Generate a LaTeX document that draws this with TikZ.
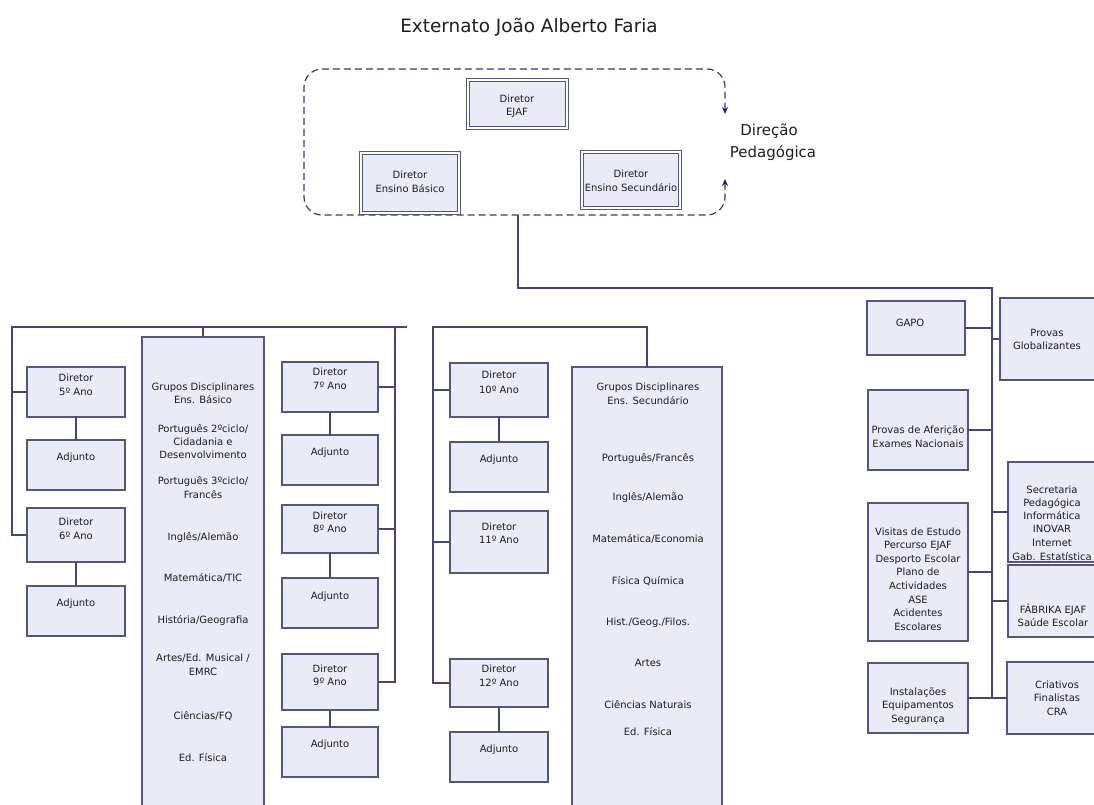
\documentclass[tikz,border=0pt]{standalone}
\usepackage{fontspec}
\setmainfont{DejaVu Sans}
\usetikzlibrary{arrows.meta,calc}
\definecolor{boxfill}{HTML}{E9EBF6}
\definecolor{boxline}{HTML}{55557F}
\definecolor{conn}{HTML}{45457A}
\definecolor{txtc}{HTML}{1E1E1E}
\definecolor{dashc}{HTML}{3A3A60}
\definecolor{arrc}{HTML}{1F1F6B}
\tikzset{
  box/.style={draw=boxline, fill=boxfill, line width=1.3pt, inner sep=0pt, outer sep=0pt},
  dbox/.style={draw=boxline, fill=boxfill, double=white, double distance=1.4pt, line width=1pt, inner sep=0pt, outer sep=0pt},
  txt/.style={font=\fontsize{10}{12}\selectfont, text=txtc, inner sep=0pt, anchor=base, yshift=-3.5pt},
  ln/.style={draw=conn, line width=1.5pt},
  dashbox/.style={draw=dashc, line width=1.2pt, dash pattern=on 7pt off 4pt, rounded corners=18pt},
}
\newcommand\mybox[6][box]{\node[#1, minimum width={#5-#3}, minimum height={#6-#4}] (#2) at ({(#3+#5)/2},{(#4+#6)/2}) {};}
\newcommand\myt[3]{\node[txt] (#1) at (#2) {#3};}
\begin{document}
\begin{tikzpicture}[x=1pt,y=-1pt]
\useasboundingbox (0,0) rectangle (1094,805);
\clip (0,0) rectangle (1094,805);
% title
\node[font=\fontsize{18.4}{20}\selectfont, text=txtc, anchor=base, inner sep=0pt] (title) at (529,33) {Externato João Alberto Faria};
% direction
\draw[dashbox, {Stealth[length=7pt,width=6pt,color=arrc]}-{Stealth[length=7pt,width=6pt,color=arrc]}]
  (725,114) -- (725,69) -- (304,69) -- (304,215) -- (725,215) -- (725,179);
\node[font=\fontsize{15}{17}\selectfont, text=txtc, anchor=base, inner sep=0pt] (dp1) at (769,136) {Direção};
\node[font=\fontsize{15}{17}\selectfont, text=txtc, anchor=base, inner sep=0pt] (dp2) at (773,158) {Pedagógica};
\mybox[dbox]{ejaf}{468}{80}{567}{128}
\mybox[dbox]{eb}{361}{153}{459}{213}
\mybox[dbox]{es}{582}{152}{680}{208}
\myt{ejaf1}{517,99}{Diretor}
\myt{ejaf2}{517,112}{EJAF}
\myt{eb1}{410,175}{Diretor}
\myt{eb2}{410,189}{Ensino Básico}
\myt{es1}{631,174}{Diretor}
\myt{es2}{631,188}{Ensino Secundário}
% left boxes
\mybox{d5}{27}{367}{125}{417}
\mybox{a5}{27}{440}{125}{490}
\mybox{d6}{27}{508}{125}{562}
\mybox{a6}{27}{586}{125}{636}
\mybox{gb}{142}{337}{264}{815}
\mybox{d7}{282}{362}{378}{412}
\mybox{a7}{282}{435}{378}{485}
\mybox{d8}{282}{505}{378}{553}
\mybox{a8}{282}{578}{378}{628}
\mybox{d9}{282}{654}{378}{710}
\mybox{a9}{282}{727}{378}{777}
\mybox{d10}{450}{363}{548}{417}
\mybox{a10}{450}{442}{548}{492}
\mybox{d11}{450}{511}{548}{573}
\mybox{d12}{450}{659}{548}{707}
\mybox{a12}{450}{732}{548}{782}
\mybox{gs}{572}{367}{722}{815}
% right boxes
\mybox{gapo}{867}{301}{965}{355}
\mybox{pg}{1000}{298}{1096}{380}
\mybox{af}{868}{390}{968}{470}
\mybox{sec}{1008}{462}{1100}{562}
\mybox{vis}{868}{503}{968}{641}
\mybox{fab}{1008}{565}{1100}{637}
\mybox{ins}{868}{663}{968}{733}
\mybox{crt}{1007}{662}{1105}{734}
% box texts
\myt{d5a}{76,378}{Diretor}\myt{d5b}{76,392}{5º Ano}\myt{a5a}{76,457}{Adjunto}
\myt{d6a}{76,522}{Diretor}\myt{d6b}{76,536}{6º Ano}\myt{a6a}{76,603}{Adjunto}
\myt{d7a}{330,372}{Diretor}\myt{d7b}{330,386}{7º Ano}\myt{a7a}{330,452}{Adjunto}
\myt{d8a}{330,516}{Diretor}\myt{d8b}{330,529}{8º Ano}\myt{a8a}{330,596}{Adjunto}
\myt{d9a}{330,669}{Diretor}\myt{d9b}{330,682}{9º Ano}\myt{a9a}{330,744}{Adjunto}
\myt{d10a}{499,375}{Diretor}\myt{d10b}{499,390}{10º Ano}\myt{a10a}{499,459}{Adjunto}
\myt{d11a}{499,527}{Diretor}\myt{d11b}{499,540}{11º Ano}
\myt{d12a}{499,669}{Diretor}\myt{d12b}{499,683}{12º Ano}\myt{a12a}{499,749}{Adjunto}
\foreach \lyy/\ltx [count=\i] in {387/{Grupos Disciplinares}, 400/{Ens. Básico}, 429/{Português 2ºciclo/}, 442/{Cidadania e}, 455/{Desenvolvimento}, 481/{Português 3ºciclo/}, 495/{Francês}, 537/{Inglês/Alemão}, 578/{Matemática/TIC}, 620/{História/Geografia}, 658/{Artes/Ed. Musical /}, 672/{EMRC}, 716/{Ciências/FQ}, 758/{Ed. Física}}
  {\node[txt] (gbt\i) at (203,\lyy) {\ltx};}
\foreach \lyy/\ltx [count=\i] in {387/{Grupos Disciplinares}, 401/{Ens. Secundário}, 458/{Português/Francês}, 497/{Inglês/Alemão}, 539/{Matemática/Economia}, 581/{Física Química}, 622/{Hist./Geog./Filos.}, 663/{Artes}, 705/{Ciências Naturais}, 732/{Ed. Física}}
  {\node[txt] (gst\i) at (648,\lyy) {\ltx};}
\myt{gapot}{910,323}{GAPO}
\myt{pg1}{1047,333}{Provas}\myt{pg2}{1047,346}{Globalizantes}
\myt{af1}{918,430}{Provas de Aferição}\myt{af2}{918,444}{Exames Nacionais}
\foreach \lyy/\ltx [count=\i] in {490/{Secretaria}, 503/{Pedagógica}, 516/{Informática}, 529/{INOVAR}, 543/{Internet}, 557/{Gab. Estatística}}
  {\node[txt] (sect\i) at (1052,\lyy) {\ltx};}
\foreach \lyy/\ltx [count=\i] in {532/{Visitas de Estudo}, 545/{Percurso EJAF}, 559/{Desporto Escolar}, 572/{Plano de}, 586/{Actividades}, 600/{ASE}, 613/{Acidentes}, 627/{Escolares}}
  {\node[txt] (vist\i) at (918,\lyy) {\ltx};}
\myt{fab1}{1053,610}{FÁBRIKA EJAF}\myt{fab2}{1053,623}{Saúde Escolar}
\myt{ins1}{918,692}{Instalações}\myt{ins2}{918,705}{Equipamentos}\myt{ins3}{918,719}{Segurança}
\myt{crt1}{1057,685}{Criativos}\myt{crt2}{1057,698}{Finalistas}\myt{crt3}{1057,712}{CRA}
% connectors: top to right column
\coordinate (dbot) at (518,215);
\coordinate (hr) at (992,288);
\draw[ln] (dbot) |- (hr) -- (hr |- crt.west);
\draw[ln] (gapo.east) -- (gapo.east -| hr);
\draw[ln] (hr |- pg.west) -- (pg.west);
\draw[ln] (af.east) -- (af.east -| hr);
\draw[ln] (hr |- sec.west) -- (sec.west);
\draw[ln] (vis.east) -- (vis.east -| hr);
\draw[ln] (hr |- fab.west) -- (fab.west);
\draw[ln] (ins.east) -- (ins.east -| hr);
\draw[ln] (hr |- crt.west) -- (crt.west);
% left bus
\coordinate (bus1) at (12,327);
\coordinate (bus1e) at (407,327);
\coordinate (v2) at (395,327);
\draw[ln] (bus1e) -- (bus1) -- (bus1 |- d6.west) -- (d6.west);
\draw[ln] (bus1 |- d5.west) -- (d5.west);
\draw[ln] (gb.north |- bus1) -- (gb.north);
\draw[ln] (v2) -- (v2 |- d9.east) -- (d9.east);
\draw[ln] (d7.east) -- (d7.east -| v2);
\draw[ln] (d8.east) -- (d8.east -| v2);
\draw[ln] (d5.south) -- (a5.north);
\draw[ln] (d6.south) -- (a6.north);
\draw[ln] (d7.south) -- (a7.north);
\draw[ln] (d8.south) -- (a8.north);
\draw[ln] (d9.south) -- (a9.north);
% right bus
\coordinate (bus2) at (433,327);
\draw[ln] (gs.north) -- (gs.north |- bus2) -- (bus2) -- (bus2 |- d12.west) -- (d12.west);
\draw[ln] (bus2 |- d10.west) -- (d10.west);
\draw[ln] (bus2 |- d11.west) -- (d11.west);
\draw[ln] (d10.south) -- (a10.north);
\draw[ln] (d12.south) -- (a12.north);
\end{tikzpicture}
\end{document}
